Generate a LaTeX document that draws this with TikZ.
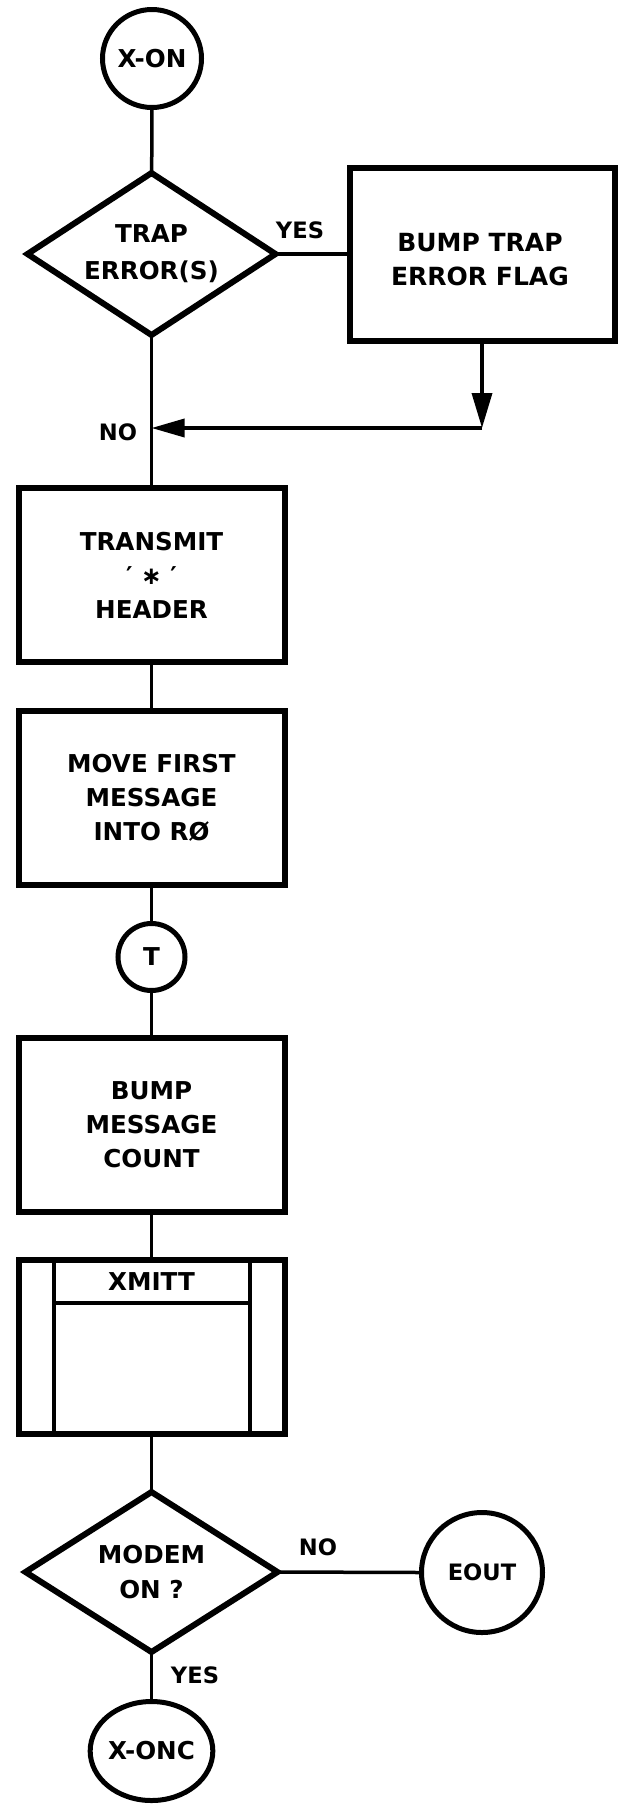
\documentclass[tikz,border=0pt]{standalone}
\usepackage{fontspec}
\setmainfont{DejaVu Sans}
\usetikzlibrary{shapes.geometric,arrows.meta}
\newcommand\myfnt[2]{\bfseries\fontsize{#1}{#2}\selectfont}
\begin{document}
\begin{tikzpicture}[x=0.5pt,y=-0.5pt,
  every node/.style={font=\myfnt{12.3}{17}, inner sep=0pt, outer sep=0pt},
  procbox/.style={draw, line width=3pt, rectangle, minimum width=133pt, minimum height=87pt, align=center},
  decision/.style={draw, line width=3pt, diamond, aspect=1.5, align=center},
  term/.style={draw, line width=2.5pt, ellipse, align=center},
  conn/.style={line width=1.75pt},
  inner/.style={line width=2pt},
  lbl/.style={font=\myfnt{11.3}{14}},
  tipdown/.style={-{Triangle[length=17.5pt,width=10pt]}},
  tipleft/.style={-{Triangle[length=16.5pt,width=9pt]}}
]
\useasboundingbox (0,0) rectangle (619,1805);

% top terminal
\node[term, minimum width=49.5pt, minimum height=49pt] (xon) at (152,58.5) {X-ON};

% first decision
\node[decision, minimum width=124pt, minimum height=81pt, font=\myfnt{12.3}{18.5}] (d1) at (151.5,254) {TRAP\\ERROR(S)};

% bump trap error flag
\node[procbox, minimum width=132.5pt, minimum height=86.5pt] (b1) at (482,254) {};
\node[font=\myfnt{12.5}{17}, align=center] (b1t) at (480,260) {BUMP TRAP\\ERROR FLAG};

\node[lbl] (yes1) at (300,230) {YES};
\node[lbl] (no1) at (118,432) {NO};

\coordinate (j1) at (482,428);
\coordinate (j2) at (151.5,428);

% process boxes
\node[procbox] (b2) at (151.5,575) {TRANSMIT\\′ ∗ ′\\HEADER};
\node[procbox] (b3) at (151.5,797.5) {MOVE FIRST\\MESSAGE\\INTO RØ};
\node[term, circle, minimum size=33.5pt] (t) at (151.5,957) {T};
\node[procbox] (b4) at (151.5,1125) {BUMP\\MESSAGE\\COUNT};

% predefined process XMITT
\node[procbox] (b5) at (151.5,1347) {};
\draw[inner] ([xshift=-49pt]b5.north) -- ([xshift=-49pt]b5.south);
\draw[inner] ([xshift=49pt]b5.north) -- ([xshift=49pt]b5.south);
\draw[inner] ([xshift=-49pt,yshift=-21.5pt]b5.north) -- ([xshift=49pt,yshift=-21.5pt]b5.north);
\node (xmitt) at (151.5,1282) {XMITT};

% second decision
\node[decision, minimum width=126pt, minimum height=80pt, font=\myfnt{12.3}{17.5}] (d2) at (151.5,1572) {MODEM\\ON ?};
\node[term, minimum width=60.5pt, minimum height=60pt, font=\myfnt{11.3}{14}] (eout) at (482,1572.5) {EOUT};
\node[term, minimum width=49.5pt, minimum height=49.5pt] (xonc) at (151.5,1751) {X-ONC};

\node[lbl] (no2) at (318,1547) {NO};
\node[lbl] (yes2) at (195,1675) {YES};

% connectors
\draw[conn] (xon) -- (d1);
\draw[conn] (d1.east) -- (b1.west);
\draw[conn, tipdown] (b1.south) -- (j1);
\draw[conn, tipleft] (j1) -- (j2);
\draw[conn] (d1.south) -- (b2.north);
\draw[conn] (b2) -- (b3);
\draw[conn] (b3) -- (t);
\draw[conn] (t) -- (b4);
\draw[conn] (b4) -- (b5);
\draw[conn] (b5) -- (d2);
\draw[conn] (d2.east) -- (eout.west);
\draw[conn] (d2.south) -- (xonc.north);
\end{tikzpicture}
\end{document}
